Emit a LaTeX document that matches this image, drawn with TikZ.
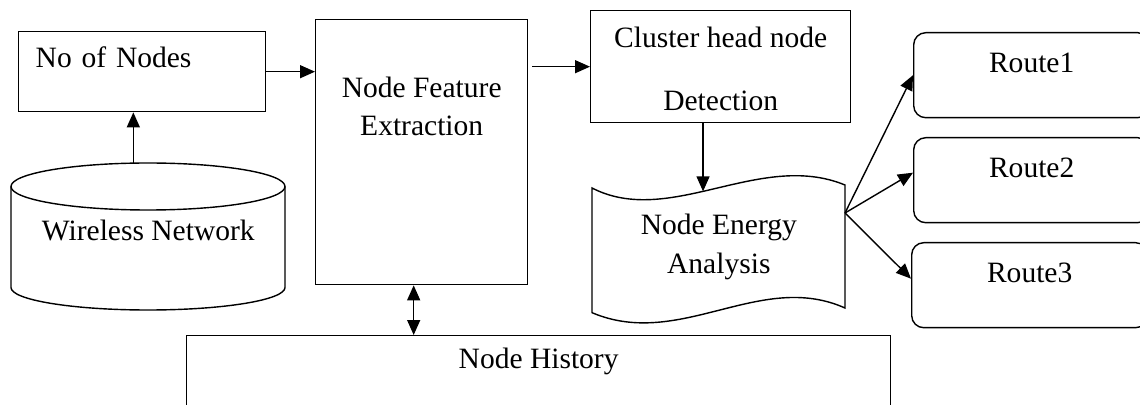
\documentclass[tikz,border=0pt]{standalone}
\usepackage{fontspec}
\setmainfont{Liberation Serif}
\usetikzlibrary{arrows.meta}
\tikzset{boite/.style={draw, line width=0.8pt, inner sep=0pt, anchor=north west, align=center},
    route/.style={boite, rounded corners=0.24cm, minimum width=4.72cm, text height=0.8cm, text depth=0.9cm},
    fleche/.style={line width=0.8pt, -{Triangle[length=0.3cm,width=0.26cm]}},
    flechedouble/.style={line width=0.8pt, {Triangle[length=0.3cm,width=0.26cm]}-{Triangle[length=0.3cm,width=0.26cm]}}}

\begin{document}
\begin{tikzpicture}[x=0.02cm, y=-0.02cm, font=\fontsize{16.8}{22}\selectfont]
\useasboundingbox (0,0) rectangle (1140,405);
\clip (0,0) rectangle (1140,405);

%%% blocs

% reseau
\node[boite, align=left, minimum width=4.94cm, inner xsep=0.34cm, text width=4.26cm, text height=0.72cm, text depth=0.88cm] (noN) at (18,31) {No of Nodes};
\node[inner sep=0pt, anchor=north west, minimum width=5.48cm, text height=1.54cm, text depth=1.4cm] (wn) at (11,163) {Wireless Network};
\draw[line width=0.8pt] (148,186.5) ellipse [x radius=137, y radius=23.5];
\draw[line width=0.8pt] (11,186.5) -- (11,287.5) arc[start angle=180, end angle=0, x radius=137, y radius=22.5] -- (285,186.5);

% extraction
\node[boite, minimum width=4.24cm, text height=2.32cm, text depth=2.98cm] (fe) at (315,19) {Node Feature\\Extraction};
\node[boite, minimum width=14.08cm, text height=0.66cm, text depth=1.04cm] (nh) at (186,335) {Node History};

% cluster head
\node[boite, minimum width=5.2cm, text height=2.0cm, text depth=0.24cm] (clh) at (590,10) {Cluster head node\\[13.7pt]Detection};

% energie
\node[inner sep=0pt, anchor=north west, align=center, minimum width=5.06cm, text height=1.7cm, text depth=0.78cm] (nea) at (592,188) {Node Energy\\Analysis};
\draw[line width=0.8pt] (nea.north west) .. controls (670,228) and (760,150) .. (845,185) coordinate[pos=0.45] (neatop) -- (845,308) .. controls (760,270) and (680,350) .. (nea.south west) -- cycle;
\coordinate (fork) at (845,213);

% routes
\node[route] (r1) at (913,32) {Route1};
\node[route] (r2) at (913,137) {Route2};
\node[route] (r3) at (911,242) {Route3};

%%% liens

\draw[fleche] ([xshift=-0.3cm]wn.north) -- ([xshift=-0.3cm]wn.north |- noN.south);
\draw[fleche] (noN.east) -- (noN.east -| fe.west);
\draw[fleche] ([xshift=0.08cm]fe.east |- clh.west) -- (clh.west);
\draw[flechedouble] ([xshift=-0.16cm]fe.south) -- ([xshift=-0.16cm]fe.south |- nh.north);
\draw[fleche] (clh.south -| neatop) -- (neatop);
\draw[fleche] (fork) -- (r1.west);
\draw[fleche] (fork) -- ([yshift=0.15cm]r2.west);
\draw[fleche] (fork) -- ([yshift=0.13cm]r3.west);
\end{tikzpicture}
\end{document}
